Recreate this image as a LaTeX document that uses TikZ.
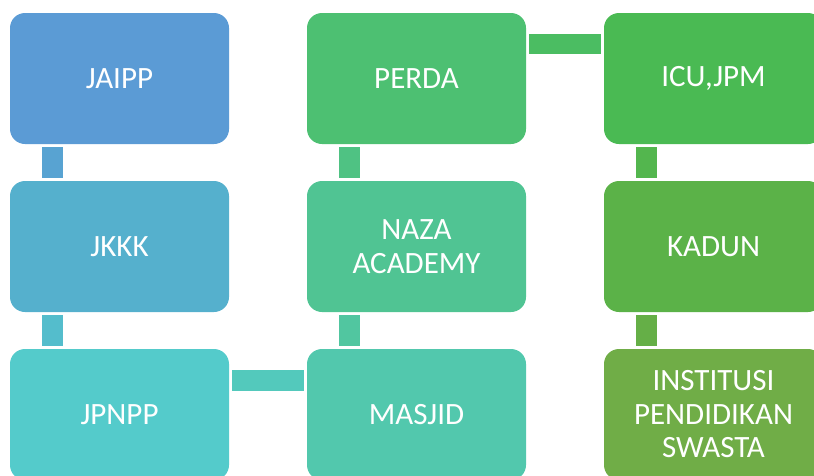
\documentclass[tikz,border=0pt]{standalone}
\usepackage{fontspec}
\setmainfont{Carlito}
\usepackage{tikz}
\usetikzlibrary{calc,positioning}
\definecolor{cJaipp}{HTML}{5B9BD5}
\definecolor{cJkkk}{HTML}{55B0CD}
\definecolor{cJpnpp}{HTML}{54CBCB}
\definecolor{cMasjid}{HTML}{52C8AD}
\definecolor{cNaza}{HTML}{50C493}
\definecolor{cPerda}{HTML}{4DC072}
\definecolor{cIcu}{HTML}{4ABA53}
\definecolor{cKadun}{HTML}{5BB248}
\definecolor{cSwasta}{HTML}{70AD47}
\tikzset{
    x=1pt,y=-1pt,
    unit/.style ={rectangle, rounded corners=15pt, draw=none, text=white,
      minimum width=219pt, minimum height=131pt, inner sep=0pt, outer sep=0pt,
      align=center, font=\fontsize{31}{33.5}\selectfont},
    link/.style={line width=20.5pt, line cap=butt}
}
\begin{document}
\begin{tikzpicture}
 \useasboundingbox (0,0) rectangle (814,475);
 \clip (0,0) rectangle (814,475);
    \node[unit, fill=cJaipp] (jaipp) at (119.5,78.5) {JAIPP};
    \node[unit, fill=cJkkk] (jkkk) at (119.5,246.5) {JKKK};
    \node[unit, fill=cJpnpp] (jpnpp) at (119.5,414.5) {JPNPP};
    \node[unit, fill=cMasjid] (masjid) at (416.5,414.5) {MASJID};
    \node[unit, fill=cNaza] (naza) at (416.5,246.5) {NAZA\\ACADEMY};
    \node[unit, fill=cPerda] (perda) at (416.5,78.5) {PERDA};
    \node[unit, fill=cIcu] (icu) at (713.5,78.5) {ICU,JPM};
    \node[unit, fill=cKadun] (kadun) at (713.5,246.5) {KADUN};
    \node[unit, fill=cSwasta] (swasta) at (713.5,414.5) {INSTITUSI\\PENDIDIKAN\\SWASTA};

    % vertical links
    \draw[link, cJaipp!60!cJkkk] ([xshift=42.5pt,yshift=-3pt]jaipp.south west) -- ([xshift=42.5pt,yshift=3pt]jkkk.north west);
    \draw[link, cJkkk!50!cJpnpp] ([xshift=42.5pt,yshift=-3pt]jkkk.south west) -- ([xshift=42.5pt,yshift=3pt]jpnpp.north west);
    \draw[link, cNaza!50!cMasjid] ([xshift=42.5pt,yshift=-3pt]naza.south west) -- ([xshift=42.5pt,yshift=3pt]masjid.north west);
    \draw[link, cPerda!50!cNaza] ([xshift=42.5pt,yshift=-3pt]perda.south west) -- ([xshift=42.5pt,yshift=3pt]naza.north west);
    \draw[link, cIcu!50!cKadun] ([xshift=42.5pt,yshift=-3pt]icu.south west) -- ([xshift=42.5pt,yshift=3pt]kadun.north west);
    \draw[link, cKadun!50!cSwasta] ([xshift=42.5pt,yshift=-3pt]kadun.south west) -- ([xshift=42.5pt,yshift=3pt]swasta.north west);
    % horizontal links
    \draw[link, cJpnpp!50!cMasjid] ([xshift=3pt,yshift=-31.5pt]jpnpp.north east) -- ([xshift=-3pt,yshift=-31.5pt]masjid.north west);
    \draw[link, cPerda!50!cIcu] ([xshift=3pt,yshift=-31pt]perda.north east) -- ([xshift=-3pt,yshift=-31pt]icu.north west);
\end{tikzpicture}
\end{document}
